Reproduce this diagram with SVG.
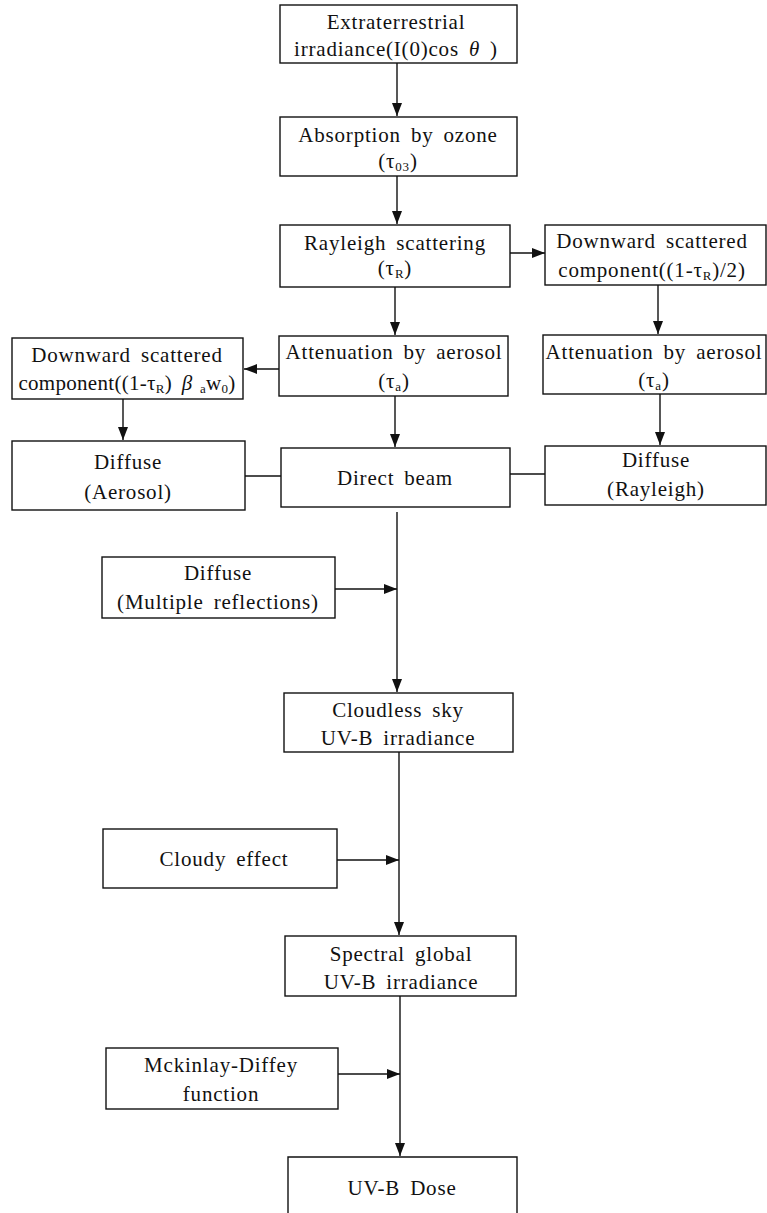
<svg xmlns="http://www.w3.org/2000/svg" width="767" height="1213" viewBox="0 0 767 1213">
<defs>
<style>
.box{fill:#fff;stroke:#111;stroke-width:1.4}
.t{font-family:"Liberation Serif","Times New Roman",serif;font-size:21px;fill:#111;text-anchor:middle;letter-spacing:0.8px;word-spacing:4px}
.sub{font-size:13px}
.c{stroke:#111;stroke-width:1.4;fill:none}
</style>
<marker id="ah" markerUnits="userSpaceOnUse" markerWidth="14" markerHeight="11" refX="13" refY="5.5" orient="auto">
<path d="M0,0.5 L13,5.5 L0,10.5 z" fill="#111"/>
</marker>
</defs>
<rect width="767" height="1213" fill="#fff"/>

<g id="connectors">
<line class="c" x1="397" y1="63" x2="397" y2="116" marker-end="url(#ah)"/>
<line class="c" x1="397" y1="176" x2="397" y2="224" marker-end="url(#ah)"/>
<line class="c" x1="510" y1="253" x2="545" y2="253" marker-end="url(#ah)"/>
<line class="c" x1="395" y1="287" x2="395" y2="335" marker-end="url(#ah)"/>
<line class="c" x1="658" y1="285" x2="658" y2="334" marker-end="url(#ah)"/>
<line class="c" x1="279" y1="369" x2="244" y2="369" marker-end="url(#ah)"/>
<line class="c" x1="123" y1="399" x2="123" y2="440" marker-end="url(#ah)"/>
<line class="c" x1="395" y1="396" x2="395" y2="447" marker-end="url(#ah)"/>
<line class="c" x1="660" y1="394" x2="660" y2="445" marker-end="url(#ah)"/>
<line class="c" x1="245" y1="476" x2="281" y2="476"/>
<line class="c" x1="510" y1="474" x2="545" y2="474"/>
<line class="c" x1="397" y1="512" x2="397" y2="692" marker-end="url(#ah)"/>
<line class="c" x1="335" y1="589" x2="397" y2="589" marker-end="url(#ah)"/>
<line class="c" x1="399" y1="752" x2="399" y2="935" marker-end="url(#ah)"/>
<line class="c" x1="337" y1="860" x2="399" y2="860" marker-end="url(#ah)"/>
<line class="c" x1="400" y1="996" x2="400" y2="1156" marker-end="url(#ah)"/>
<line class="c" x1="338" y1="1074" x2="400" y2="1074" marker-end="url(#ah)"/>
</g>

<g id="extraterrestrial">
<rect class="box" x="280" y="5" width="237" height="58"/>
<text class="t" x="396" y="29">Extraterrestrial</text>
<text class="t" x="396" y="56">irradiance(I(0)cos <tspan font-style="italic">θ</tspan> )</text>
</g>

<g id="ozone">
<rect class="box" x="280" y="117" width="237" height="59"/>
<text class="t" x="398" y="142">Absorption by ozone</text>
<text class="t" x="398" y="168">(τ<tspan class="sub" dy="3">03</tspan><tspan dy="-3">)</tspan></text>
</g>

<g id="rayleigh">
<rect class="box" x="280" y="225" width="230" height="62"/>
<text class="t" x="395" y="250">Rayleigh scattering</text>
<text class="t" x="395" y="275">(τ<tspan class="sub" dy="3">R</tspan><tspan dy="-3">)</tspan></text>
</g>

<g id="down-rayleigh">
<rect class="box" x="545" y="225" width="221" height="60"/>
<text class="t" x="652" y="248">Downward scattered</text>
<text class="t" x="652" y="277">component((1-τ<tspan class="sub" dy="3">R</tspan><tspan dy="-3">)/2)</tspan></text>
</g>

<g id="atten-mid">
<rect class="box" x="279" y="336" width="229" height="60"/>
<text class="t" x="394" y="359">Attenuation by aerosol</text>
<text class="t" x="394" y="388">(τ<tspan class="sub" dy="3">a</tspan><tspan dy="-3">)</tspan></text>
</g>

<g id="down-aerosol">
<rect class="box" x="12" y="338" width="231" height="61"/>
<text class="t" x="127" y="362">Downward scattered</text>
<text class="t" x="127" y="390" style="letter-spacing:0.3px">component((1-τ<tspan class="sub" dy="3">R</tspan><tspan dy="-3">) </tspan><tspan font-style="italic">β</tspan><tspan class="sub" dy="3"> a</tspan><tspan dy="-3">w</tspan><tspan class="sub" dy="3">0</tspan><tspan dy="-3">)</tspan></text>
</g>

<g id="atten-right">
<rect class="box" x="543" y="335" width="223" height="59"/>
<text class="t" x="654" y="359">Attenuation by aerosol</text>
<text class="t" x="654" y="387">(τ<tspan class="sub" dy="3">a</tspan><tspan dy="-3">)</tspan></text>
</g>

<g id="diffuse-aerosol">
<rect class="box" x="12" y="441" width="233" height="69"/>
<text class="t" x="128" y="469">Diffuse</text>
<text class="t" x="128" y="499">(Aerosol)</text>
</g>

<g id="direct-beam">
<rect class="box" x="281" y="448" width="229" height="59"/>
<text class="t" x="395" y="485">Direct beam</text>
</g>

<g id="diffuse-rayleigh">
<rect class="box" x="545" y="446" width="221" height="59"/>
<text class="t" x="656" y="467">Diffuse</text>
<text class="t" x="656" y="496">(Rayleigh)</text>
</g>

<g id="diffuse-multiple">
<rect class="box" x="102" y="557" width="233" height="61"/>
<text class="t" x="218" y="580">Diffuse</text>
<text class="t" x="218" y="609">(Multiple reflections)</text>
</g>

<g id="cloudless">
<rect class="box" x="284" y="693" width="229" height="59"/>
<text class="t" x="398" y="717">Cloudless sky</text>
<text class="t" x="398" y="745">UV-B irradiance</text>
</g>

<g id="cloudy">
<rect class="box" x="103" y="829" width="234" height="59"/>
<text class="t" x="224" y="866">Cloudy effect</text>
</g>

<g id="spectral">
<rect class="box" x="285" y="936" width="231" height="60"/>
<text class="t" x="401" y="961">Spectral global</text>
<text class="t" x="401" y="989">UV-B irradiance</text>
</g>

<g id="mckinlay">
<rect class="box" x="106" y="1048" width="232" height="61"/>
<text class="t" x="221" y="1072">Mckinlay-Diffey</text>
<text class="t" x="221" y="1101">function</text>
</g>

<g id="dose">
<path class="box" d="M288,1214 V1157 H517 V1214"/>
<text class="t" x="402" y="1195">UV-B Dose</text>
</g>
</svg>
